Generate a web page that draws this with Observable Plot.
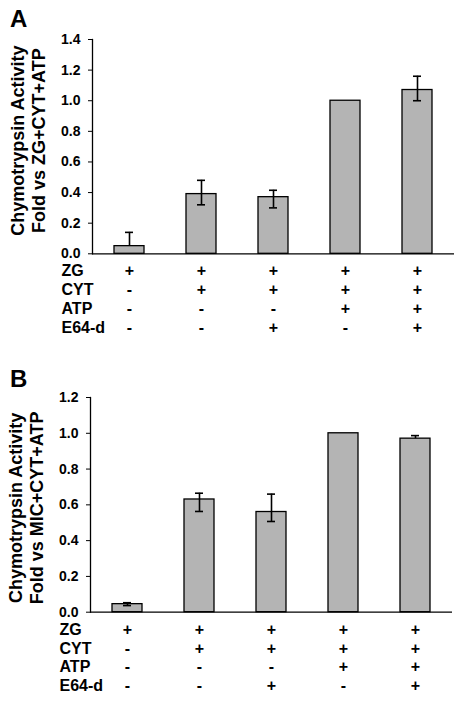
<!DOCTYPE html>
<html>
<head>
<meta charset="utf-8">
<script src="https://cdn.jsdelivr.net/npm/d3@7"></script>
<script src="https://cdn.jsdelivr.net/npm/@observablehq/plot@0.6"></script>
<style>
  html, body { margin: 0; padding: 0; background: #fff; }
  body { width: 460px; height: 703px; overflow: hidden; font-family: "Liberation Sans", Arial, sans-serif; }
  .panel { position: relative; width: 460px; }
  .letter { position: absolute; left: 10px; font-weight: bold; font-size: 24px; line-height: 1; color: #000; }
  svg { display: block; }
</style>
</head>
<body>
<div id="chart"></div>
<script>
// ---- data ----
const conditions = ["c1", "c2", "c3", "c4", "c5"];
const rowLabels = ["ZG", "CYT", "ATP", "E64-d"];
const signsZG   = ["+", "+", "+", "+", "+"];
const signsCYT  = ["-", "+", "+", "+", "+"];
const signsATP  = ["-", "-", "-", "+", "+"];
const signsE64  = ["-", "-", "+", "-", "+"];

const valuesA   = [0.05, 0.39, 0.37, 1.00, 1.07];
const errUpA    = [0.09, 0.09, 0.045, 0, 0.09];
const errDownA  = [0, 0.07, 0.07, 0, 0.07];
const yTicksA   = [0, 0.2, 0.4, 0.6, 0.8, 1.0, 1.2, 1.4];
const titleA    = ["Chymotrypsin Activity", "Fold vs ZG+CYT+ATP"];

const valuesB   = [0.045, 0.63, 0.56, 1.00, 0.97];
const errUpB    = [0.008, 0.035, 0.10, 0, 0.017];
const errDownB  = [0.008, 0.067, 0.053, 0, 0];
const yTicksB   = [0, 0.2, 0.4, 0.6, 0.8, 1.0, 1.2];
const titleB    = ["Chymotrypsin Activity", "Fold vs MIC+CYT+ATP"];

const signRows = [signsZG, signsCYT, signsATP, signsE64];

function panel({letter, values, errUp, errDown, yTicks, title, height, marginLeft, marginRight, marginBottom, titleDy, letterTop}) {
  const data = conditions.map((c, i) => ({cond: c, value: values[i], up: errUp[i], down: errDown[i]}));
  const errs = data.filter(d => d.up > 0 || d.down > 0);
  const yMax = yTicks[yTicks.length - 1];
  const font = "Liberation Sans, Arial, sans-serif";

  const marks = [
    Plot.barY(data, {x: "cond", y: "value", fill: "#b4b4b4", stroke: "#000", strokeWidth: 1.3, insetLeft: 21, insetRight: 21}),
    Plot.ruleX(errs, {x: "cond", y1: d => d.value - d.down, y2: d => d.value + d.up, stroke: "#000", strokeWidth: 1.6}),
    Plot.tickY(errs.filter(d => d.up > 0), {x: "cond", y: d => d.value + d.up, stroke: "#000", strokeWidth: 1.6, insetLeft: 32, insetRight: 32}),
    Plot.tickY(errs.filter(d => d.down > 0), {x: "cond", y: d => d.value - d.down, stroke: "#000", strokeWidth: 1.6, insetLeft: 32, insetRight: 32}),
    Plot.ruleY([0], {stroke: "#000", strokeWidth: 1.3}),
    Plot.frame({anchor: "left", stroke: "#000", strokeWidth: 1.3}),
    Plot.axisY({ticks: yTicks, tickFormat: d => d.toFixed(1), tickSize: 4, tickPadding: 8, fontSize: 14, fontWeight: "bold", label: null, stroke: "#000"}),
    Plot.text([title[0]], {text: d => d, frameAnchor: "left", textAnchor: "middle", rotate: -90, dx: -74, dy: titleDy, fontSize: 18, fontWeight: "bold", fill: "#000"}),
    Plot.text([title[1]], {text: d => d, frameAnchor: "left", textAnchor: "middle", rotate: -90, dx: -53, dy: titleDy, fontSize: 18, fontWeight: "bold", fill: "#000"})
  ];
  rowLabels.forEach((lab, i) => {
    marks.push(Plot.text([lab], {text: d => d, frameAnchor: "bottom-left", textAnchor: "start", dx: -31, dy: 22.6 + i * 18.7, fontSize: 16, fontWeight: "bold", fill: "#000"}));
    marks.push(Plot.text(conditions.map((c, j) => ({cond: c, s: signRows[i][j]})), {x: "cond", text: "s", frameAnchor: "bottom", textAnchor: "middle", dy: 22.6 + i * 18.7, fontSize: 16, fontWeight: "bold", fill: "#000"}));
  });

  const svg = Plot.plot({
    width: 460,
    height,
    marginTop: 39,
    marginLeft,
    marginRight,
    marginBottom,
    style: {fontFamily: font, color: "#000", background: "#fff", overflow: "visible"},
    x: {type: "band", domain: conditions, padding: 0, axis: null},
    y: {domain: [0, yMax], axis: null},
    marks
  });
  const div = document.createElement("div");
  div.className = "panel";
  div.appendChild(svg);
  const l = document.createElement("div");
  l.className = "letter";
  l.style.top = letterTop + "px";
  l.textContent = letter;
  div.appendChild(l);
  return div;
}

const root = document.getElementById("chart");
root.appendChild(panel({letter: "A", values: valuesA, errUp: errUpA, errDown: errDownA, yTicks: yTicksA, title: titleA,
  height: 358, marginLeft: 92, marginRight: 6, marginBottom: 104.7, titleDy: -6, letterTop: 7}));
root.appendChild(panel({letter: "B", values: valuesB, errUp: errUpB, errDown: errDownB, yTicks: yTicksB, title: titleB,
  height: 345, marginLeft: 90, marginRight: 8, marginBottom: 91.3, titleDy: 3, letterTop: 9}));
</script>
</body>
</html>
